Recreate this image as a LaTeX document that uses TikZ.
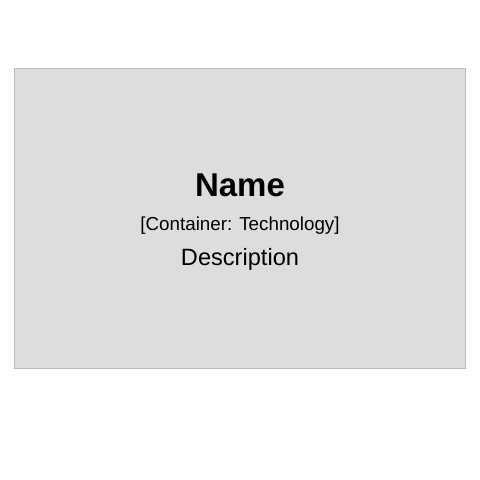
\documentclass[tikz,border=0pt]{standalone}
\usepackage{fontspec}
\setmainfont{Liberation Sans}
\definecolor{boxfill}{HTML}{DDDDDD}
\definecolor{boxline}{HTML}{BBBBBB}
\tikzset{
  container/.style={draw=boxline, fill=boxfill, line width=1.2pt},
  lbl/.style={anchor=base, inner sep=0pt, text=black}
}
\begin{document}
\begin{tikzpicture}[x=1pt,y=-1pt]
\useasboundingbox (0,0) rectangle (480,480);
\path[container] (14.5,68.5) rectangle (465.5,368.5);
\node[lbl, font={\fontsize{33}{36}\selectfont\bfseries}] (name) at (240,196) {Name};
\node[lbl, font={\fontsize{18.8}{22}\selectfont}] (tech) at (240,230) {[Container: Technology]};
\node[lbl, font={\fontsize{23.6}{26}\selectfont}] (desc) at (240,265) {Description};
\end{tikzpicture}
\end{document}
